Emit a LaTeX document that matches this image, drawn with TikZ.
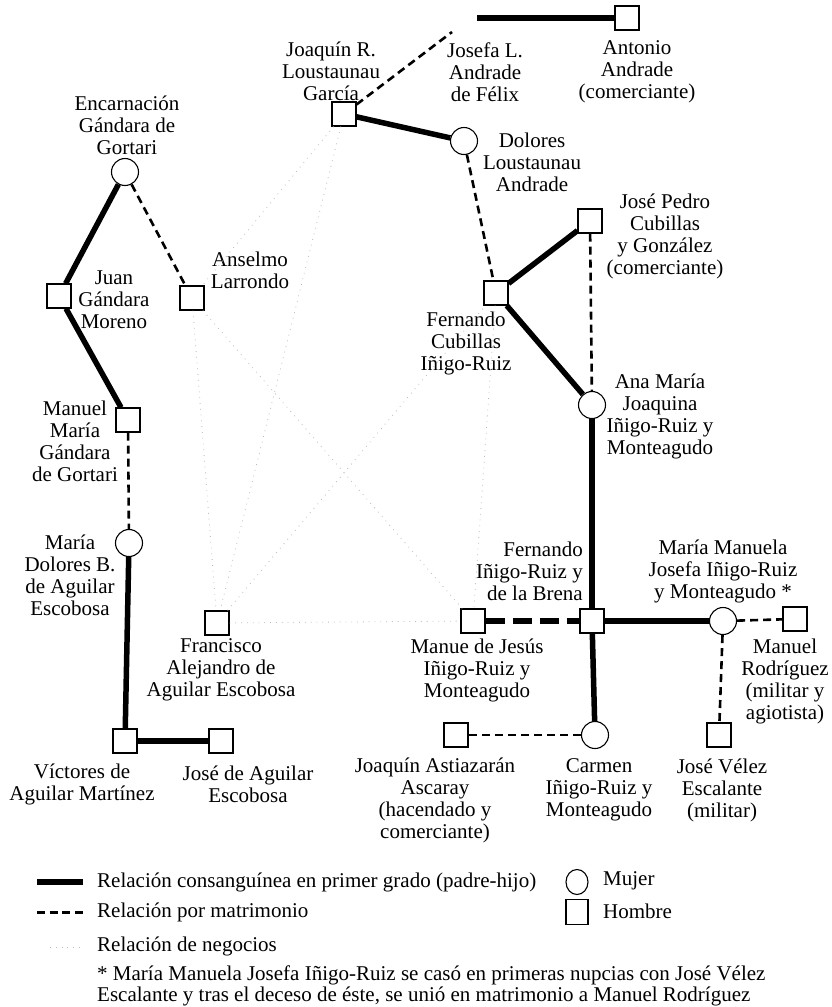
\documentclass[tikz,border=0pt]{standalone}
\usepackage{fontspec}
\usetikzlibrary{shapes.geometric}
\setmainfont{Liberation Serif}
\begin{document}
\begin{tikzpicture}[x=1pt,y=-1pt,
 man/.style={draw, line width=1.1pt, minimum size=24pt, inner sep=0pt, fill=white},
 woman/.style={draw, circle, line width=1.1pt, minimum size=27pt, inner sep=0pt, fill=white},
 lbl/.style={align=center, inner sep=0pt, font=\fontsize{21}{22}\selectfont},
 lblr/.style={align=right, inner sep=0pt, font=\fontsize{21}{22}\selectfont},
 leg/.style={anchor=west, inner sep=0pt, font=\fontsize{21}{22}\selectfont},
 blood/.style={line width=5.5pt},
 marr/.style={line width=2.6pt, dash pattern=on 8pt off 5pt},
 marrthick/.style={line width=5.5pt, dash pattern=on 19pt off 8pt},
 biz/.style={gray!55, line width=0.8pt, dash pattern=on 0.8pt off 5pt},
]
\useasboundingbox (0,0) rectangle (832,1007);

% people
\node[woman] (enc) at (125,172) {};
\node[man] (juan) at (59,296) {};
\node[man] (anselmo) at (192,298) {};
\node[man] (manuelm) at (128,420) {};
\node[woman] (mdolores) at (129,543) {};
\node[man] (victores) at (125,741) {};
\node[man] (josea) at (221,741) {};
\node[man] (francisco) at (217,623) {};
\node[man] (joaquinl) at (344,114) {};
\node[woman] (dolores) at (464,141) {};
\node[man] (antonio) at (627,18) {};
\coordinate (jl1) at (452,32);
\coordinate (jl2) at (477,18);
\node[man] (fcubillas) at (496,293) {};
\node[man] (jpedro) at (590,221) {};
\node[woman] (anamaria) at (592,405) {};
\node[man] (fernando) at (592,621) {};
\node[man] (manue) at (473,621) {};
\node[woman] (mmanuela) at (723,621) {};
\node[man] (mrodriguez) at (795,619) {};
\node[man] (jvelez) at (719,735) {};
\node[woman] (carmen) at (595,735) {};
\node[man] (jastiazaran) at (456,735) {};

% labels
\node[lbl] (tenc) at (127,125) {Encarnación\\Gándara de\\Gortari};
\node[lbl] (tjuan) at (114,300) {Juan\\Gándara\\Moreno};
\node[lbl] (tanselmo) at (250,270) {Anselmo\\Larrondo};
\node[lbl] (tmanuelm) at (75,441) {Manuel\\María\\Gándara\\de Gortari};
\node[lbl] (tmdolores) at (70,575) {María\\Dolores B.\\de Aguilar\\Escobosa};
\node[lbl] (tvictores) at (82,784) {Víctores de\\Aguilar Martínez};
\node[lbl] (tjosea) at (248,784) {José de Aguilar\\Escobosa};
\node[lbl] (tfrancisco) at (221,670) {Francisco\\Alejandro de\\Aguilar Escobosa};
\node[lbl] (tjoaquinl) at (331,71) {Joaquín R.\\Loustaunau\\García};
\node[lbl] (tjosefa) at (485,72) {Josefa L.\\Andrade\\de Félix};
\node[lbl] (tantonio) at (637,72) {Antonio\\Andrade\\(comerciante)};
\node[lbl] (tdolores) at (532,162) {Dolores\\Loustaunau\\Andrade};
\node[lbl] (tjpedro) at (665,236) {José Pedro\\Cubillas\\y González\\(comerciante)};
\node[lbl] (tfcubillas) at (466,343) {Fernando\\Cubillas\\Iñigo-Ruiz};
\node[lbl] (tanamaria) at (660,416) {Ana María\\Joaquina\\Iñigo-Ruiz y\\Monteagudo};
\node[lblr, anchor=east] (tfernando) at (583,571) {Fernando\\Iñigo-Ruiz y\\de la Brena};
\node[lbl] (tmmanuela) at (723,571) {María Manuela\\Josefa Iñigo-Ruiz\\y Monteagudo *};
\node[lbl] (tmanue) at (477,670) {Manue de Jesús\\Iñigo-Ruiz y\\Monteagudo};
\node[lbl] (tmrodriguez) at (785,681) {Manuel\\Rodríguez\\(militar y\\agiotista)};
\node[lbl] (tjastiazaran) at (435,800) {Joaquín Astiazarán\\Ascaray\\(hacendado y\\comerciante)};
\node[lbl] (tcarmen) at (599,790) {Carmen\\Iñigo-Ruiz y\\Monteagudo};
\node[lbl] (tjvelez) at (722,790) {José Vélez\\Escalante\\(militar)};

% business relations
\draw[biz] (joaquinl) -- (anselmo);
\draw[biz] (joaquinl) -- (francisco);
\draw[biz] (anselmo) -- (francisco);
\draw[biz] (anselmo) -- (manue);
\draw[biz] (francisco) -- (fcubillas);
\draw[biz] (fcubillas) -- (manue);
\draw[biz] (francisco) -- (manue);

% blood relations
\draw[blood] (enc) -- (juan);
\draw[blood] (juan) -- (manuelm);
\draw[blood] (mdolores) -- (victores);
\draw[blood] (victores) -- (josea);
\draw[blood] (joaquinl) -- (dolores);
\draw[blood] (jl2) -- (antonio);
\draw[blood] (fcubillas) -- (jpedro);
\draw[blood] (fcubillas) -- (anamaria);
\draw[blood] (anamaria) -- (fernando);
\draw[blood] (fernando) -- (mmanuela);
\draw[blood] (fernando) -- (carmen);

% marriages
\draw[marr] (enc) -- (anselmo);
\draw[marr] (manuelm) -- (mdolores);
\draw[marr] (joaquinl) -- (jl1);
\draw[marr] (dolores) -- (fcubillas);
\draw[marr] (jpedro) -- (anamaria);
\draw[marr] (mmanuela) -- (mrodriguez);
\draw[marr] (mmanuela) -- (jvelez);
\draw[marr] (carmen) -- (jastiazaran);
\draw[marrthick] (manue) -- (fernando);

% legend
\coordinate (l1a) at (37,882); \coordinate (l1b) at (83,882);
\coordinate (l2a) at (37,912); \coordinate (l2b) at (83,912);
\coordinate (l3a) at (50,947); \coordinate (l3b) at (80,947);
\draw[line width=6pt] (l1a) -- (l1b);
\draw[line width=3pt, dash pattern=on 8pt off 4.67pt] (l2a) -- (l2b);
\draw[biz] (l3a) -- (l3b);
\node[leg] (k1) at (97,882) {Relación consanguínea en primer grado (padre-hijo)};
\node[leg] (k2) at (97,912) {Relación por matrimonio};
\node[leg] (k3) at (97,946) {Relación de negocios};
\node[leg, align=left, font=\fontsize{21}{21.5}\selectfont] (k4) at (97,986) {* María Manuela Josefa Iñigo-Ruiz se casó en primeras nupcias con José Vélez\\Escalante y tras el deceso de éste, se unió en matrimonio a Manuel Rodríguez};
\node[draw, ellipse, line width=1.1pt, minimum width=22pt, minimum height=25pt, inner sep=0pt] (kw) at (577,882) {};
\node[draw, line width=1.1pt, minimum width=22pt, minimum height=25pt, inner sep=0pt] (km) at (577,912) {};
\node[leg] (kwt) at (603,881) {Mujer};
\node[leg] (kmt) at (603,911) {Hombre};
\end{tikzpicture}
\end{document}
